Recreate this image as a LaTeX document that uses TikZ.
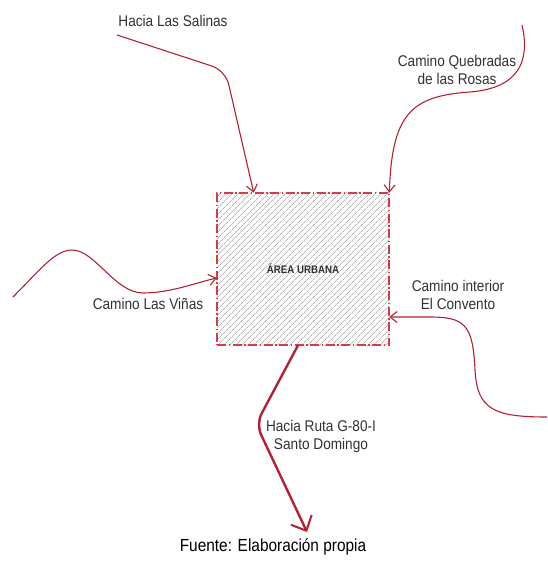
\documentclass[tikz,border=0pt]{standalone}
\usepackage{fontspec}
\setmainfont{Liberation Sans}
\newfontfamily\narrowsans{Liberation Sans}[FakeStretch=0.88]
\usepackage{xcolor}
\usetikzlibrary{positioning,arrows.meta,patterns.meta}

\definecolor{roadred}{RGB}{178,34,52}
\definecolor{boxred}{RGB}{215,60,70}
\definecolor{labelgray}{RGB}{50,50,50}

\tikzset{
  road/.style={color=roadred, line width=1.1pt, -{Straight Barb[length=7pt,width=11pt]}},
  mainroad/.style={color=roadred, line width=2.4pt, -{Straight Barb[length=12pt,width=23pt,line width=2pt]}},
  roadlabel/.style={font=\narrowsans\fontsize{15.5}{18}\selectfont, text=labelgray, align=center, inner sep=1pt},
  urbanbox/.style={draw=boxred, line width=1.8pt, dash pattern=on 9pt off 2.5pt on 1.5pt off 2.5pt,
    inner sep=0pt, minimum width=172pt, minimum height=152pt,
    pattern={Lines[angle=45,distance=4pt,line width=0.6pt]}, pattern color=black!45}
}

\begin{document}
\begin{tikzpicture}[x=1pt,y=-1pt]
\useasboundingbox (0,0) rectangle (547,561);

% Urban area
\node[urbanbox] (urbana) at (303,269) {};
\node[font=\narrowsans\fontsize{11}{12}\selectfont\bfseries, text=labelgray] (urbanalbl) at (urbana.center) {ÁREA URBANA};

% Road labels
\node[roadlabel] (salinas) at (173,21) {Hacia Las Salinas};
\node[roadlabel] (quebradas) at (457,70) {Camino Quebradas\\de las Rosas};
\node[roadlabel] (vinas) at (148,304) {Camino Las Viñas};
\node[roadlabel] (convento) at (458,295) {Camino interior\\El Convento};
\node[roadlabel] (ruta) at (321,436) {Hacia Ruta G-80-I\\Santo Domingo};

% Road ends
\coordinate (salinasend) at (117,35);
\coordinate (quebradasend) at (522,25);
\coordinate (vinasend) at (13,297);
\coordinate (conventoend) at (547,417);
\coordinate (rutaend) at (307,532);

% Roads
\draw[road, rounded corners=14pt] (salinasend) -- (225.5,70.5) -- ([xshift=37pt]urbana.north west);
\draw[road] (quebradasend) .. controls (530,60) and (520,88) .. (470,92)
  .. controls (410,96) and (392,115) .. (urbana.north east);
\draw[road] (vinasend) .. controls (40,270) and (55,250) .. (72,250)
  .. controls (95,250) and (115,293) .. (143,293)
  .. controls (170,293) and (195,283) .. ([yshift=-9pt]urbana.west);
\draw[road] (conventoend) .. controls (495,417) and (477,410) .. (475,370)
  .. controls (473,325) and (465,317) .. (430,317) -- ([yshift=-48pt]urbana.east);
\draw[mainroad, rounded corners=12pt] ([xshift=-5pt]urbana.south) -- (256,424) -- (rutaend);

% Source
\node[font=\narrowsans\fontsize{17.5}{20}\selectfont, text=black] (fuente) at (273,547) {Fuente: Elaboración propia};

\end{tikzpicture}
\end{document}
